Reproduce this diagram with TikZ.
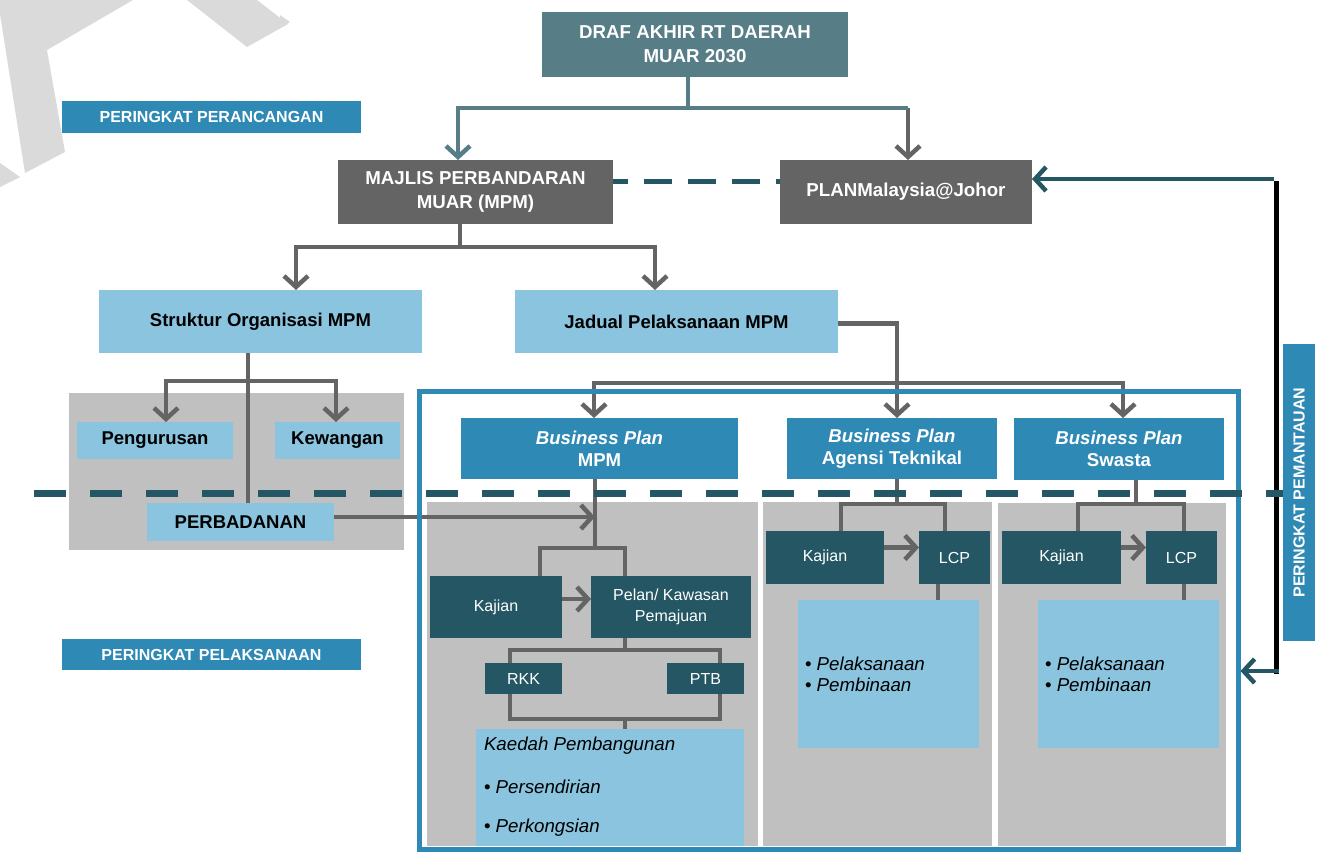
\documentclass[tikz,border=0pt]{standalone}
\usepackage{fontspec}
\setmainfont{Liberation Sans}
\usetikzlibrary{arrows.meta}
\definecolor{topteal}{HTML}{577E86}
\definecolor{dgray}{HTML}{646464}
\definecolor{lblue}{HTML}{8BC4DF}
\definecolor{mblue}{HTML}{2F89B5}
\definecolor{dteal}{HTML}{245763}
\definecolor{pgray}{HTML}{C0C0C0}
\definecolor{wmgray}{HTML}{DADADA}
\pgfdeclarelayer{back}
\pgfdeclarelayer{mid}
\pgfdeclarelayer{front}
\pgfsetlayers{back,mid,main,front}
\newcommand\mybox[7]{\node[#1, minimum width={(#5)-(#3)}, minimum height={(#6)-(#4)}] (#2) at ({((#3)+(#5))/2},{((#4)+(#6))/2}) {#7};}
\begin{document}
\begin{tikzpicture}[x=1pt,y=-1pt,
  base/.style={inner sep=0pt, outer sep=0pt, align=center},
  topbox/.style={base, fill=topteal, text=white, font=\bfseries\fontsize{18.7}{24}\selectfont},
  graybox/.style={base, fill=dgray, text=white, font=\bfseries\fontsize{18.7}{24}\selectfont},
  lightbox/.style={base, fill=lblue, text=black, font=\bfseries\fontsize{18.5}{22}\selectfont},
  levelbar/.style={base, fill=mblue, text=white, font=\bfseries\fontsize{16}{19}\selectfont},
  bpbox/.style={base, fill=mblue, text=white, font=\bfseries\fontsize{18.6}{22}\selectfont},
  darkbox/.style={base, fill=dteal, text=white, font=\fontsize{16}{21}\selectfont},
  bulletbox/.style={base, fill=lblue},
  panel/.style={base, fill=pgray},
  bultext/.style={inner sep=0pt, outer sep=0pt, anchor=west, align=left, text=black, font=\itshape\fontsize{18.7}{21}\selectfont},
  gconn/.style={draw=dgray, line width=4.5pt},
  garr/.style={gconn, -{Straight Barb[length=11pt,width=24pt]}},
  tconn/.style={draw=topteal, line width=4.5pt},
  tarr/.style={tconn, -{Straight Barb[length=11pt,width=24pt]}},
  darr/.style={draw=dteal, line width=4.5pt, -{Straight Barb[length=11pt,width=24pt]}},
  levelline/.style={draw=dteal, line width=7pt, dash pattern=on 32pt off 24pt},
  linkline/.style={draw=dteal, line width=5pt, dash pattern=on 28pt off 16pt, dash phase=13pt}
]
\useasboundingbox (0,0) rectangle (1318,852);

% watermark
\begin{pgfonlayer}{back}
\fill[wmgray] (0,0) -- (133,0) -- (47,50) -- (65,152) -- (25,173) -- (0,14) -- cycle;
\fill[wmgray] (187,0) -- (247,47) -- (288,24) -- (257,0) -- cycle;
\fill[wmgray] (0,163) -- (20,177) -- (0,187) -- cycle;
\fill[wmgray] (280,15) -- (290,22) -- (280,28) -- cycle;
% panels
\mybox{panel}{lpanel}{69}{393}{404}{550}{}
\mybox{panel}{panelA}{427}{502}{758}{846}{}
\mybox{panel}{panelB}{763}{502}{992}{846}{}
\mybox{panel}{panelC}{998}{503}{1226}{846}{}
\end{pgfonlayer}

% boxes
\mybox{topbox}{draf}{542}{12}{848}{77}{DRAF AKHIR RT DAERAH\\MUAR 2030}
\mybox{levelbar}{pplan}{62}{101}{361}{133}{PERINGKAT PERANCANGAN}
\mybox{graybox}{majlis}{338}{160}{613}{224}{MAJLIS PERBANDARAN\\MUAR (MPM)}
\mybox{graybox}{planm}{780}{160}{1032}{224}{PLANMalaysia@Johor}
\mybox{lightbox}{struktur}{99}{290}{422}{353}{Struktur Organisasi MPM}
\mybox{lightbox}{jadual}{515}{290}{838}{353}{Jadual Pelaksanaan MPM}
\mybox{lightbox}{pengurusan}{77}{422}{233}{459}{Pengurusan}
\mybox{lightbox}{kewangan}{275}{422}{400}{459}{Kewangan}
\mybox{lightbox}{perbadanan}{147}{503}{334}{541}{PERBADANAN}
\node[base, draw=mblue, line width=5pt, minimum width=819, minimum height=458] (bigbox) at (828.5,620) {};
\mybox{bpbox}{bpmpm}{461}{418}{738}{479}{\textit{Business Plan}\\MPM}
\mybox{bpbox}{bpagensi}{787}{418}{997}{479}{\textit{Business Plan}\\Agensi Teknikal}
\mybox{bpbox}{bpswasta}{1014}{418}{1224}{480}{\textit{Business Plan}\\Swasta}
\mybox{darkbox}{kajA}{430}{576}{562}{638}{Kajian}
\mybox{darkbox}{pelan}{591}{576}{751}{638}{Pelan/ Kawasan\\Pemajuan}
\mybox{darkbox}{rkk}{485}{663}{562}{694}{RKK}
\mybox{darkbox}{ptb}{667}{663}{744}{694}{PTB}
\mybox{bulletbox}{kaedah}{476}{729}{744}{846}{}
\mybox{darkbox}{kajB}{766}{531}{884}{584}{Kajian}
\mybox{darkbox}{lcpB}{919}{531}{990}{584}{LCP}
\mybox{bulletbox}{bulB}{798}{600}{979}{748}{}
\mybox{darkbox}{kajC}{1002}{531}{1121}{584}{Kajian}
\mybox{darkbox}{lcpC}{1146}{531}{1217}{584}{LCP}
\mybox{bulletbox}{bulC}{1038}{600}{1219}{748}{}
\mybox{levelbar}{ppelak}{62}{639}{361}{670}{PERINGKAT PELAKSANAAN}
\node[levelbar, minimum width=297, minimum height=32, rotate=90] (ppantau) at (1299,492.5) {PERINGKAT PEMANTAUAN};

% texts in bullet boxes
\node[bultext] (kaedahT) at (484,746) {Kaedah Pembangunan};
\node[bultext] (kaedahA) at (484,787) {\upshape\textbullet\ \itshape Persendirian};
\node[bultext] (kaedahB) at (484,828) {\upshape\textbullet\ \itshape Perkongsian};
\node[bultext] (bulBT) at (805,674) {\upshape\textbullet\ \itshape Pelaksanaan\\\upshape\textbullet\ \itshape Pembinaan};
\node[bultext] (bulCT) at (1045,674) {\upshape\textbullet\ \itshape Pelaksanaan\\\upshape\textbullet\ \itshape Pembinaan};

% connectors
\begin{pgfonlayer}{mid}
\coordinate (jl) at (458,108);
\coordinate (jr) at (908,108);
\coordinate (jc) at (688,108);
\draw[tconn] (draf.south -| jc) -- (jc);
\draw[garr] (jr) -- (jr |- planm.north);
\draw[tarr] (jr) -- (jl) -- (jl |- majlis.north);
\draw[linkline] ([yshift=11pt]majlis.east) -- ([yshift=11pt]planm.west);

\coordinate (m0) at (460,247);
\coordinate (m1) at (296,247);
\coordinate (m2) at (655,247);
\draw[gconn] (majlis.south -| m0) -- (m0);
\draw[garr] (m2) -- (m1) -- (m1 |- struktur.north);
\draw[garr] (m1) -- (m2) -- (m2 |- jadual.north);

\coordinate (s0) at (248,381);
\coordinate (s1) at (166,381);
\coordinate (s2) at (336,381);
\draw[gconn] (struktur.south -| s0) -- (s0 |- perbadanan.north);
\draw[garr] (s2) -- (s1) -- (s1 |- pengurusan.north);
\draw[garr] (s1) -- (s2) -- (s2 |- kewangan.north);

\coordinate (b1) at (594,383);
\coordinate (b2) at (897,383);
\coordinate (b3) at (1123,383);
\draw[gconn] ([yshift=-2pt]jadual.east) -| (b2);
\draw[garr] (b3) -- (b1) -- (b1 |- bpmpm.north);
\draw[garr] (b2) -- (b2 |- bpagensi.north);
\draw[garr] (b1) -- (b3) -- (b3 |- bpswasta.north);

\coordinate (p1) at (595,548);
\coordinate (k1) at (540,548);
\coordinate (k2) at (625,548);
\draw[gconn] (bpmpm.south -| p1) -- (p1);
\draw[garr] ([yshift=5pt]perbadanan.east) -- ([yshift=5pt]perbadanan.east -| p1);
\draw[gconn] (k1 |- kajA.north) -- (k1) -- (k2) -- (k2 |- pelan.north);
\draw[garr] ([yshift=8pt]kajA.east) -- ([yshift=8pt]pelan.west);
\coordinate (r1) at (510,650);
\coordinate (r2) at (720,719);
\draw[gconn] (r1) rectangle (r2);
\draw[gconn] (pelan.south -| k2) -- (k2 |- r1);
\draw[gconn] (k2 |- r2) -- (k2 |- kaedah.north);

\coordinate (a0) at (897,504);
\coordinate (a1) at (841,504);
\coordinate (a2) at (945,504);
\draw[gconn] (bpagensi.south -| a0) -- (a0);
\draw[gconn] (a1 |- kajB.north) -- (a1) -- (a2) -- (a2 |- lcpB.north);
\draw[garr] ([yshift=10pt]kajB.east) -- ([yshift=10pt]lcpB.west);
\coordinate (cB) at (938,600);
\draw[gconn] (lcpB.south -| cB) -- (cB |- bulB.north);

\coordinate (w0) at (1136,504);
\coordinate (w1) at (1078,504);
\coordinate (w2) at (1184,504);
\draw[gconn] (bpswasta.south -| w0) -- (w0);
\draw[gconn] (w1 |- kajC.north) -- (w1) -- (w2) -- (w2 |- lcpC.north);
\draw[garr] ([yshift=10pt]kajC.east) -- ([yshift=10pt]lcpC.west);
\coordinate (cC) at (1184,600);
\draw[gconn] (lcpC.south -| cC) -- (cC |- bulC.north);

\coordinate (rl1) at (1276,179);
\coordinate (rl2) at (1276,671);
\draw[black, line width=5pt] ([yshift=-2pt]rl1) -- ([yshift=-2.5pt]rl2);
\draw[darr] ([xshift=-2.5pt]rl1) -- (rl1 -| planm.east);
\draw[darr] ([xshift=2.5pt]rl2) -- ([xshift=2.5pt]rl2 -| bigbox.east);
\end{pgfonlayer}

\begin{pgfonlayer}{front}
\coordinate (dl) at (34,493);
\coordinate (dr) at (1283,493);
\draw[levelline] (dl) -- (dr);
\end{pgfonlayer}
\end{tikzpicture}
\end{document}
